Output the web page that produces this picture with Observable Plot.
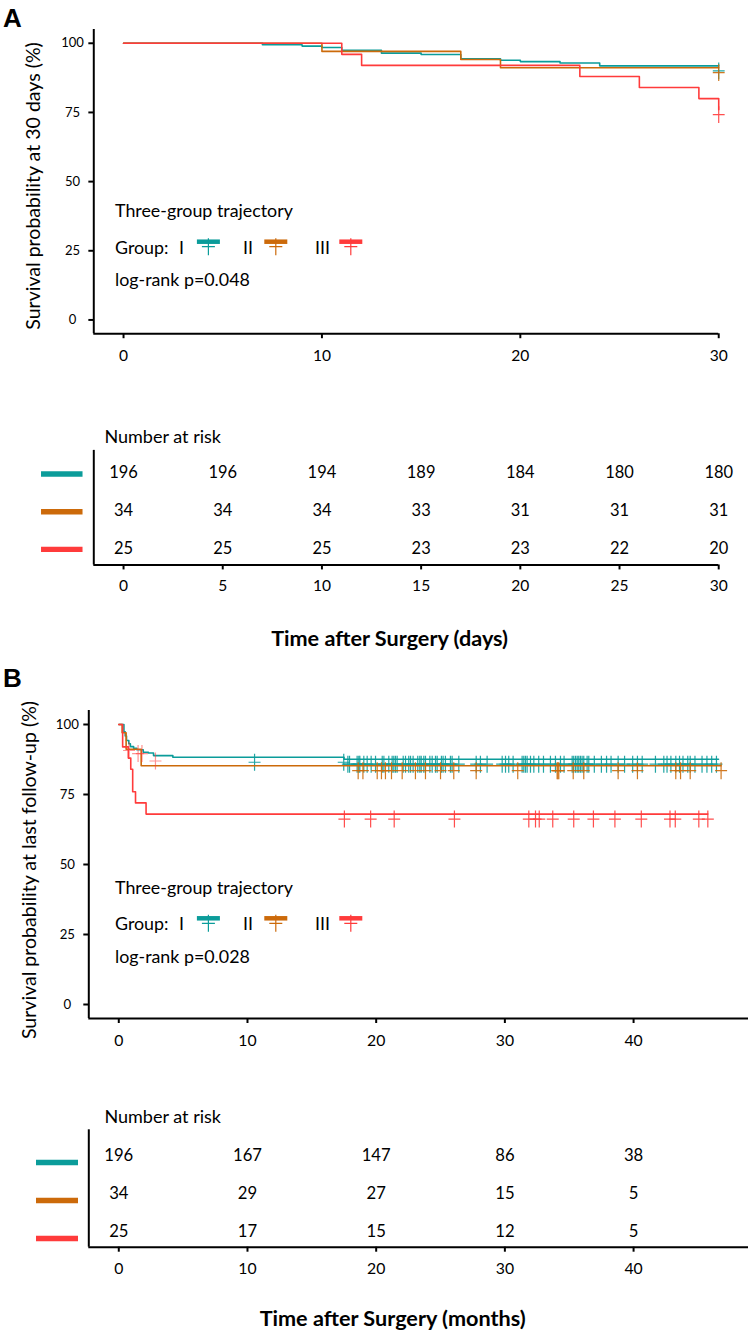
<!DOCTYPE html>
<html><head><meta charset="utf-8">
<script src="https://cdn.jsdelivr.net/npm/d3@7"></script>
<script src="https://cdn.jsdelivr.net/npm/@observablehq/plot@0.6"></script>
<style>
html,body{margin:0;padding:0;background:#fff;}
#root{position:relative;width:748px;height:1333px;overflow:hidden;background:#fff;}
.slot{position:absolute;}
</style></head>
<body><div id="root"></div>
<script>
// ---------------- DATA ----------------
const groupNames = ["I", "II", "III"];
const groupColors = ["#0B9C9A", "#CC6A0A", "#FF3B3B"];
const yTicks = [0, 25, 50, 75, 100];

// Panel A: 30-day survival (days)
const aTimeI   = [0, 7, 9, 10, 11, 13, 15, 17, 19, 20, 22, 24, 30];
const aSurvI   = [100, 99.49, 98.98, 98.47, 97.45, 96.43, 95.92, 94.39, 93.88, 93.37, 92.86, 91.84, 91.84];
const aTimeII  = [0, 10, 17, 19, 30];
const aSurvII  = [100, 97.06, 94.12, 91.18, 91.18];
const aTimeIII = [0, 11, 12, 23, 26, 29, 30];
const aSurvIII = [100, 96, 92, 88, 84, 80, 76];
const aCensorI = [30];
const aCensorII = [30];
const aCensorIII = [30];
const aXTicks = [0, 10, 20, 30];
const aRiskTimes = [0, 5, 10, 15, 20, 25, 30];
const aRiskI   = [196, 196, 194, 189, 184, 180, 180];
const aRiskII  = [34, 34, 34, 33, 31, 31, 31];
const aRiskIII = [25, 25, 25, 23, 23, 22, 20];
const aPValue = "log-rank p=0.048";

// Panel B: survival at last follow-up (months)
const bTimeI   = [0, 0.4, 0.5, 0.6, 0.78, 0.9, 1.15, 1.4, 1.9, 2.3, 2.7, 4.2, 17.5, 46.6];
const bSurvI   = [100, 97.4, 95.9, 94.3, 93.1, 92.1, 91.5, 91.0, 90.1, 89.8, 88.9, 88.3, 87.6, 87.6];
const bTimeII  = [0, 0.26, 0.57, 1.74, 46.8];
const bSurvII  = [100, 97.06, 91.18, 85.29, 85.29];
const bTimeIII = [0, 0.3, 0.74, 0.93, 1.08, 1.3, 2.12, 45.77];
const bSurvIII = [100, 92, 88, 84, 76, 72, 68, 68];
const bCensorI = [10.55, 17.48, 17.8, 17.93, 18.52, 18.65, 18.73, 19.04, 19.3, 19.61, 19.95, 20.47, 20.6,
  20.98, 21.24, 21.37, 21.5, 21.63, 22.1, 22.28, 22.53, 22.67, 22.87, 23.23, 23.39, 23.5, 23.7, 23.83,
  24.17, 24.35, 24.61, 24.74, 25.07, 25.2, 25.38, 25.77, 25.9, 26.42, 27.77, 28.1, 28.62, 29.79, 30.05,
  30.3, 30.64, 31.34, 31.47, 31.6, 31.73, 31.99, 32.25, 32.63, 33.0, 33.54, 33.93, 34.32, 34.6, 35.23,
  35.35, 35.49, 35.62, 35.74, 35.87, 36.0, 36.13, 36.39, 36.52, 36.95, 37.5, 37.9, 38.25, 38.8, 39.3,
  39.93, 40.3, 40.67, 41.7, 42.35, 42.6, 42.9, 43.28, 43.57, 43.84, 44.21, 44.4, 44.77, 45.32, 45.7,
  46.07, 46.44];
const bCensorII = [18.6, 18.97, 20.08, 20.41, 20.72, 21.19, 22.02, 23.05, 23.83, 25.0, 26.03, 27.77,
  31.0, 34.06, 34.12, 34.19, 35.31, 36.13, 38.8, 40.3, 43.28, 43.65, 44.4, 46.8];
const bCensorIII = [17.53, 19.57, 21.40, 26.08, 31.86, 32.38, 32.67, 33.72, 35.35, 36.88, 38.55,
  40.60, 42.83, 43.24, 45.07, 45.77];
const bEarlyCensorTime = [0.8, 1.5, 1.8, 2.85];
const bEarlyCensorSurv = [92.5, 91.4, 91.4, 88.75];
const bXTicks = [0, 10, 20, 30, 40];
const bRiskTimes = [0, 10, 20, 30, 40];
const bRiskI   = [196, 167, 147, 86, 38];
const bRiskII  = [34, 29, 27, 15, 5];
const bRiskIII = [25, 17, 15, 12, 5];
const bPValue = "log-rank p=0.028";

// ---------------- HELPERS ----------------
const FONT = "Lato";
const ctx2d = document.createElement("canvas").getContext("2d");
function fit(text, w, weight = "normal") {
  ctx2d.font = `${weight} 100px ${FONT}`;
  return 100 * w / ctx2d.measureText(text).width;
}
const legendSize = fit("Three-group trajectory", 178);
const riskLabelSize = fit("Number at risk", 117);
const riskNumSize = fit("196", 29);
const xTitleSize = fit("Time after Surgery (days)", 238, "bold");
const yTitleSize = fit("Survival probability at last follow-up (%)", 339);
const xTickSize = fit("30", 18.3);
const yTickSize = fit("100", 23);

function stepAt(times, survs, t) {
  let s = survs[0];
  for (let i = 0; i < times.length; i++) if (times[i] <= t) s = survs[i];
  return s;
}
const plusSym = {draw(c) { c.moveTo(-6, 0); c.lineTo(6, 0); c.moveTo(0, -8.5); c.lineTo(0, 8.5); }};
const barSym = {draw(c) { c.rect(-21, -2.75, 42, 5.5); }};

function curveMarks(times, survs, censors, color) {
  const pts = times.map((t, i) => ({t, s: survs[i]}));
  const cs = censors.map(t => ({t, s: stepAt(times, survs, t)}));
  return [
    Plot.line(pts, {x: "t", y: "s", curve: "step-after", stroke: color, strokeWidth: 1.6}),
    Plot.dot(cs, {x: "t", y: "s", symbol: plusSym, r: 6, fill: "none", stroke: color, strokeWidth: 1.2, strokeOpacity: 0.9, dy: 5})
  ];
}
function riskRows(times, lists) {
  const rows = [];
  lists.forEach((list, g) => list.forEach((n, i) => rows.push({t: times[i], row: g + 1, n: String(n)})));
  return rows;
}
const root = document.getElementById("root");
function place(node, left, top) {
  const d = document.createElement("div");
  d.className = "slot";
  d.style.left = left + "px"; d.style.top = top + "px";
  d.appendChild(node); root.appendChild(d);
}
const baseStyle = {fontFamily: FONT, color: "#000", background: "transparent", overflow: "visible"};

// ---------------- PANEL A ----------------
const plotA = Plot.plot({
  width: 757, height: 380, marginLeft: 94.4, marginRight: 0, marginTop: 29.3, marginBottom: 42.7,
  x: {domain: [-1.5, 31.5]}, y: {domain: [-5, 105]}, style: baseStyle,
  marks: [
    Plot.ruleX([-1.5], {y1: -5, y2: 105, strokeWidth: 2}),
    Plot.ruleY([-5], {x1: -1.5, x2: 30, strokeWidth: 2}),
    Plot.axisX(aXTicks, {tickSize: 5, tickPadding: 11, fontSize: xTickSize, label: null, strokeWidth: 2}),
    Plot.axisY(yTicks, {tickSize: 5, tickPadding: 16.5, fontSize: yTickSize, textAnchor: "middle", label: null, strokeWidth: 2}),
    ...curveMarks(aTimeI, aSurvI, aCensorI, groupColors[0]),
    ...curveMarks(aTimeII, aSurvII, aCensorII, groupColors[1]),
    ...curveMarks(aTimeIII, aSurvIII, aCensorIII, groupColors[2])
  ]
});
place(plotA, 0, 0);

function tablePlot(opts) {
  const rows = riskRows(opts.times, opts.lists);
  const bars = groupNames.map((g, i) => ({row: i + 1, g}));
  return Plot.plot({
    width: opts.width, height: 170, marginLeft: opts.left, marginRight: 0,
    marginTop: opts.top, marginBottom: opts.bottom,
    x: {domain: opts.xDomain}, y: {domain: opts.yDomain, reverse: true, axis: null}, style: baseStyle,
    marks: [
      Plot.ruleX([opts.xDomain[0]], {y1: opts.yDomain[0], y2: opts.yDomain[1], strokeWidth: 2}),
      Plot.ruleY([opts.yDomain[1]], {x1: opts.xDomain[0], x2: opts.xEnd, strokeWidth: 2}),
      Plot.axisX(opts.ticks, {tickSize: 5, tickPadding: 10.5, fontSize: xTickSize, label: null, strokeWidth: 2}),
      Plot.text(rows, {x: "t", y: "row", text: "n", fontSize: riskNumSize}),
      ...bars.map((b, i) => Plot.dot([b], {y: "row", frameAnchor: "left", dx: opts.barDx, dy: opts.barDy,
        symbol: barSym, r: 5, fill: groupColors[i], stroke: "none"}))
    ]
  });
}
place(tablePlot({width: 757, left: 94.4, top: 10, bottom: 44, xDomain: [-1.5, 31.5], xEnd: 30,
  yDomain: [0.4, 3.44], ticks: aRiskTimes, times: aRiskTimes, lists: [aRiskI, aRiskII, aRiskIII],
  barDx: -32.4, barDy: 1}), 0, 440);

// ---------------- PANEL B ----------------
const earlyPts = bEarlyCensorTime.map((t, i) => ({t, s: bEarlyCensorSurv[i]}));
const plotB = Plot.plot({
  width: 748, height: 380, marginLeft: 88.3, marginRight: 0, marginTop: 30, marginBottom: 42,
  x: {domain: [-2.33, 48.93]}, y: {domain: [-5, 105]}, style: baseStyle,
  marks: [
    Plot.ruleX([-2.33], {y1: -5, y2: 105, strokeWidth: 2}),
    Plot.ruleY([-5], {x1: -2.33, x2: 48.93, strokeWidth: 2}),
    Plot.axisX(bXTicks, {tickSize: 5, tickPadding: 11, fontSize: xTickSize, label: null, strokeWidth: 2}),
    Plot.axisY(yTicks, {tickSize: 5, tickPadding: 16.5, fontSize: yTickSize, textAnchor: "middle", label: null, strokeWidth: 2}),
    ...curveMarks(bTimeI, bSurvI, bCensorI, groupColors[0]),
    ...curveMarks(bTimeII, bSurvII, bCensorII, groupColors[1]),
    Plot.dot(earlyPts, {x: "t", y: "s", symbol: plusSym, r: 6, fill: "none", stroke: groupColors[2], strokeOpacity: 0.55, strokeWidth: 1.2, dy: 5}),
    ...curveMarks(bTimeIII, bSurvIII, bCensorIII, groupColors[2])
  ]
});
place(plotB, 0, 680);

place(tablePlot({width: 748, left: 88.3, top: 9.3, bottom: 43.3, xDomain: [-2.33, 48.93], xEnd: 48.93,
  yDomain: [0.324, 3.41], ticks: bRiskTimes, times: bRiskTimes, lists: [bRiskI, bRiskII, bRiskIII],
  barDx: -31.8, barDy: 7}), 0, 1120);

// ---------------- TEXT OVERLAY (titles, legends) ----------------
const NS = "http://www.w3.org/2000/svg";
const ov = document.createElementNS(NS, "svg");
ov.setAttribute("width", 748); ov.setAttribute("height", 1333);
ov.style.cssText = "position:absolute;left:0;top:0;pointer-events:none;";
root.appendChild(ov);
function txt(str, x, y, size, opts = {}) {
  const t = document.createElementNS(NS, "text");
  t.textContent = str;
  t.setAttribute("x", x); t.setAttribute("y", y);
  t.setAttribute("font-size", size);
  t.setAttribute("font-family", opts.family || FONT);
  t.setAttribute("font-weight", opts.weight || "normal");
  t.setAttribute("text-anchor", opts.anchor || "start");
  if (opts.central !== false) t.setAttribute("dominant-baseline", "central");
  t.setAttribute("fill", "#000");
  if (opts.transform) t.setAttribute("transform", opts.transform);
  ov.appendChild(t);
  return t;
}
function legendKey(cx, cy, color) {
  const r = document.createElementNS(NS, "rect");
  r.setAttribute("x", cx - 11.5); r.setAttribute("y", cy - 5 - 2.25);
  r.setAttribute("width", 23); r.setAttribute("height", 4.5); r.setAttribute("fill", color);
  ov.appendChild(r);
  const p = document.createElementNS(NS, "path");
  p.setAttribute("d", `M${cx - 6.5},${cy}H${cx + 6.5}M${cx},${cy - 8.5}V${cy + 8.5}`);
  p.setAttribute("stroke", color); p.setAttribute("stroke-width", 1.2); p.setAttribute("fill", "none");
  ov.appendChild(p);
}
function legend(titleY, groupY, pY, pText) {
  txt("Three-group trajectory", 115, titleY, legendSize);
  txt("Group:", 115, groupY, legendSize);
  const labelX = [179, 243, 315], keyX = [208.4, 275.8, 350.8];
  groupNames.forEach((g, i) => { txt(g, labelX[i], groupY, legendSize); legendKey(keyX[i], groupY, groupColors[i]); });
  txt(pText, 115, pY, legendSize);
}
// panel letters
txt("A", 3, 27, 26, {family: "Liberation Sans", weight: "bold", central: false});
txt("B", 3, 687, 26, {family: "Liberation Sans", weight: "bold", central: false});
// y titles
txt("Survival probability at 30 days (%)", 0, 0, yTitleSize, {anchor: "middle", transform: "translate(32,186) rotate(-90)"});
txt("Survival probability at last follow-up (%)", 0, 0, yTitleSize, {anchor: "middle", transform: "translate(28.5,870) rotate(-90)"});
// legends
legend(210, 246.7, 279, aPValue);
legend(887.3, 923.3, 956, bPValue);
// risk table headers
txt("Number at risk", 104.4, 436, riskLabelSize);
txt("Number at risk", 104.4, 1116, riskLabelSize);
// x titles
txt("Time after Surgery (days)", 389.6, 638, xTitleSize, {weight: "bold", anchor: "middle"});
txt("Time after Surgery (months)", 392.7, 1318, xTitleSize, {weight: "bold", anchor: "middle"});
</script>
</body></html>
